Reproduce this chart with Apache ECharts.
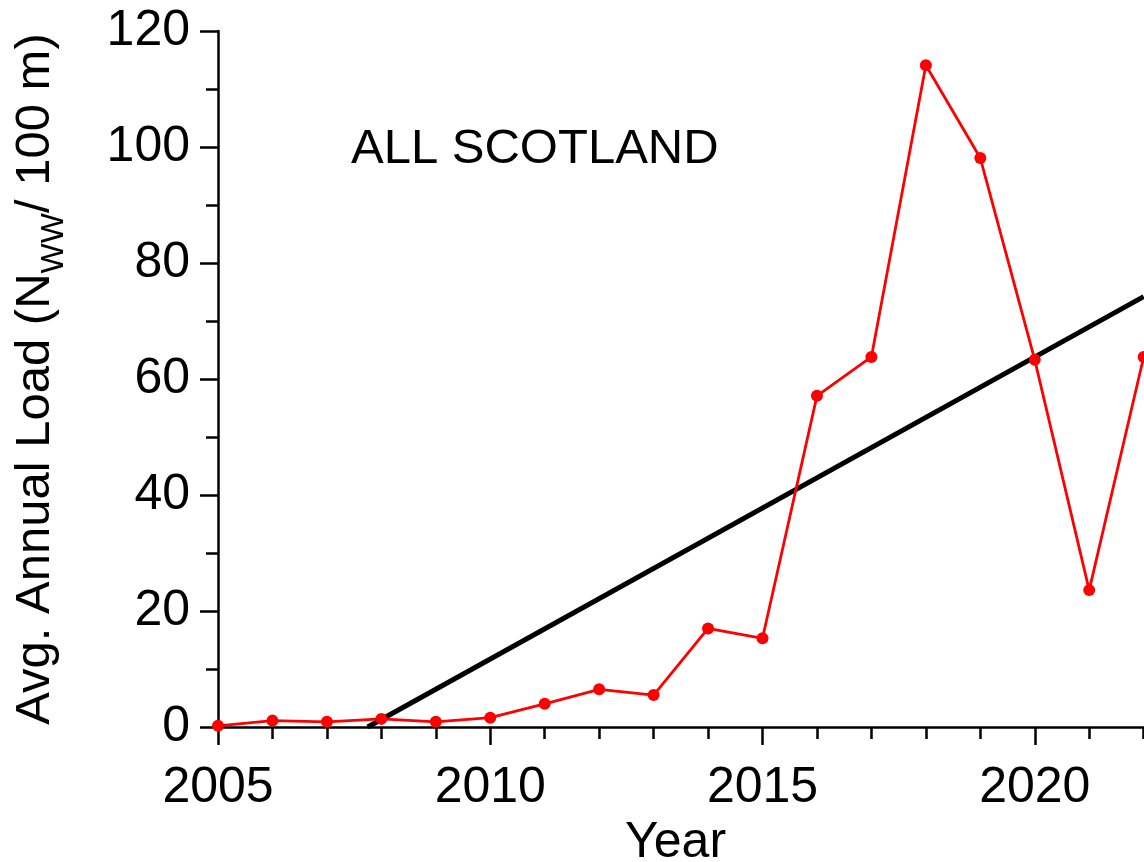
<!DOCTYPE html>
<html>
<head>
<meta charset="utf-8">
<title>ALL SCOTLAND – Avg. Annual Load</title>
<script src="https://cdn.jsdelivr.net/npm/echarts@6/dist/echarts.min.js"></script>
<style>
  html, body { margin: 0; padding: 0; background: #ffffff; overflow: hidden; }
  /* The plot runs on past the right edge of the window to 2025 */
  #chart { width: 1307px; height: 862px; }
</style>
</head>
<body>
<div id="chart"></div>
<script>
// Yearly average load, all of Scotland
const years = [2005, 2006, 2007, 2008, 2009, 2010, 2011, 2012, 2013, 2014,
               2015, 2016, 2017, 2018, 2019, 2020, 2021, 2022];
const loads = [0.2, 1.1, 0.9, 1.4, 0.9, 1.6, 4.0, 6.5, 5.5, 17.0,
               15.3, 57.1, 63.8, 114.1, 98.1, 63.3, 23.6, 63.8];

// Linear trend (start where it meets zero, end at the last year)
const trendYears = [2007.75, 2022];
const trendValues = [0, 74.2];

const FONT = '"Liberation Sans", Arial, Helvetica, sans-serif';

const chart = echarts.init(document.getElementById('chart'), null, { renderer: 'canvas' });

chart.setOption({
  backgroundColor: '#ffffff',
  animation: false,
  grid: {
    left: 218, right: 0, top: 31, bottom: 135,
    containLabel: false,
    outerBoundsMode: 'none'
  },
  xAxis: {
    type: 'value',
    min: 2005,
    max: 2025,
    interval: 5,
    axisLine: { show: true, onZero: false, lineStyle: { color: '#000', width: 2.5 } },
    axisTick: { show: true, inside: false, length: 18, lineStyle: { color: '#000', width: 2.5 } },
    minorTick: { show: true, splitNumber: 5, length: 12, lineStyle: { color: '#000', width: 2.5 } },
    splitLine: { show: false },
    axisLabel: {
      margin: 36,
      color: '#000',
      fontFamily: FONT,
      fontSize: 50,
      formatter: v => String(v)
    }
  },
  yAxis: {
    type: 'value',
    min: 0,
    max: 120,
    interval: 20,
    axisLine: { show: true, onZero: false, lineStyle: { color: '#000', width: 2.5 } },
    axisTick: { show: true, inside: false, length: 18, lineStyle: { color: '#000', width: 2.5 } },
    minorTick: { show: true, splitNumber: 2, length: 12, lineStyle: { color: '#000', width: 2.5 } },
    splitLine: { show: false },
    axisLabel: {
      margin: 28,
      color: '#000',
      fontFamily: FONT,
      fontSize: 50
    },
    name: '{m|Avg. Annual Load (N}{s|WW}{m|/ 100 m)}',
    nameLocation: 'middle',
    nameRotate: 90,
    nameGap: 158,
    nameTextStyle: {
      color: '#000',
      fontFamily: FONT,
      rich: {
        m: { fontSize: 49, fontFamily: FONT, color: '#000', verticalAlign: 'bottom', lineHeight: 52 },
        s: { fontSize: 32, fontFamily: FONT, color: '#000', verticalAlign: 'bottom', lineHeight: 52, padding: [0, 0, -10, 0] }
      }
    }
  },
  graphic: [
    {
      type: 'text',
      left: 351,
      top: 125,
      style: { text: 'ALL SCOTLAND', fontFamily: FONT, fontSize: 49, fill: '#000' }
    },
    {
      type: 'text',
      left: 625,
      top: 818,
      style: { text: 'Year', fontFamily: FONT, fontSize: 50, fill: '#000' }
    }
  ],
  series: [
    {
      name: 'Trend',
      type: 'line',
      data: trendYears.map((y, i) => [y, trendValues[i]]),
      showSymbol: false,
      symbol: 'none',
      lineStyle: { color: '#000', width: 5 },
      z: 2
    },
    {
      name: 'Load',
      type: 'line',
      data: years.map((y, i) => [y, loads[i]]),
      symbol: 'circle',
      symbolSize: 12,
      itemStyle: { color: '#ff0000' },
      lineStyle: { color: '#ff0000', width: 2.8 },
      z: 3
    }
  ]
});
</script>
</body>
</html>
